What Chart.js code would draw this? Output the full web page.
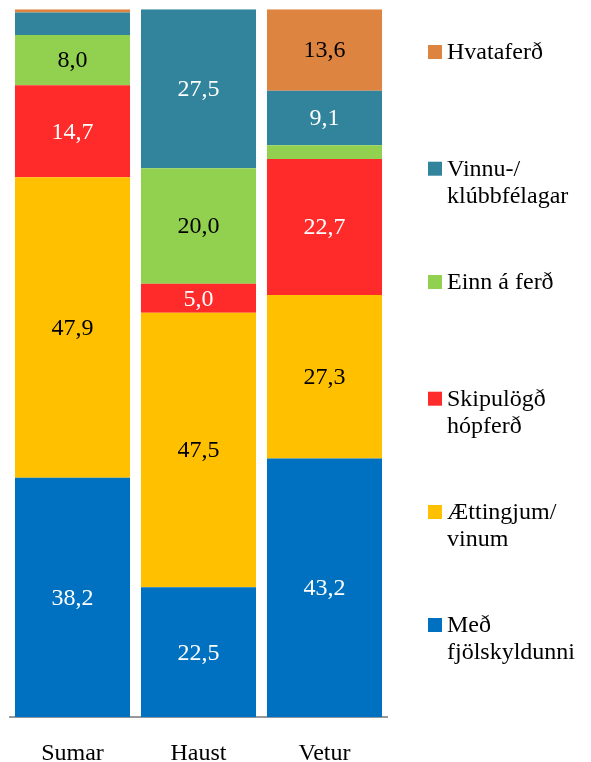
<!DOCTYPE html>
<html>
<head>
<meta charset="utf-8">
<script src="https://cdn.jsdelivr.net/npm/chart.js@4.4.1/dist/chart.umd.min.js"></script>
<style>
  html, body { margin: 0; padding: 0; background: #fff; }
  #wrap { width: 591px; height: 762px; position: relative; }
</style>
</head>
<body>
<div id="wrap"><canvas id="grafico"></canvas></div>
<script>
// Árstíðir (flokkar á x-ás)
const arstidir = ["Sumar", "Haust", "Vetur"];

// Hlutfall svarenda (%) eftir ferðafélögum, hver röð frá neðst til efst
const medFjolskyldu = [38.2, 22.5, 43.2];
const aettingjumVinum = [47.9, 47.5, 27.3];
const skipulogd = [14.7, 5.0, 22.7];
const einnAFerd = [8.0, 20.0, 2.3];
const vinnuKlubb = [3.6, 27.5, 9.1];
const hvataferd = [0.5, 0.0, 13.6];

// Nöfn raðanna (línuskipting eins og í skýringunni)
const heiti = [
  ["Með", "fjölskyldunni"],
  ["Ættingjum/", "vinum"],
  ["Skipulögð", "hópferð"],
  ["Einn á ferð"],
  ["Vinnu-/", "klúbbfélagar"],
  ["Hvataferð"],
];

const radir = [medFjolskyldu, aettingjumVinum, skipulogd, einnAFerd, vinnuKlubb, hvataferd];
const litir = ["#0070C0", "#FFC000", "#FF2A2A", "#92D050", "#31849B", "#DD8440"];
const textalitir = ["#fff", "#000", "#fff", "#000", "#fff", "#000"];

const letur = "'Liberation Serif', 'DejaVu Serif', serif";

// Súlurnar eru 100% staflaðar, summan er yfir 100 (fleiri en eitt svar)
const samtals = arstidir.map((_, j) => radir.reduce((s, r) => s + r[j], 0));

const datasets = radir.map((r, i) => ({
  label: heiti[i].join(" "),
  data: r.map((v, j) => (v / samtals[j]) * 100),
  raw: r,
  backgroundColor: litir[i],
  borderWidth: 0,
  barPercentage: 0.913,
  categoryPercentage: 1,
}));

// Gildi inni í súlunum
const gildiPlugin = {
  id: "gildi",
  afterDatasetsDraw(chart) {
    const c = chart.ctx;
    c.save();
    c.font = "24px " + letur;
    c.textAlign = "center";
    c.textBaseline = "middle";
    chart.data.datasets.forEach((ds, i) => {
      chart.getDatasetMeta(i).data.forEach((bar, j) => {
        const h = Math.abs(bar.base - bar.y);
        if (h < 25) return;
        c.fillStyle = textalitir[i];
        c.fillText(ds.raw[j].toFixed(1).replace(".", ","), bar.x, (bar.y + bar.base) / 2 + 1);
      });
    });
    c.restore();
  },
};

// Skýring hægra megin
const skyringPlugin = {
  id: "skyring",
  afterDraw(chart) {
    const c = chart.ctx;
    const midjur = [625, 512, 398.7, 282, 168.7, 52];
    c.save();
    c.font = "24px " + letur;
    c.textBaseline = "middle";
    heiti.forEach((linur, i) => {
      const y = midjur[i];
      c.fillStyle = litir[i];
      c.fillRect(428, y - 7, 14, 14);
      c.fillStyle = "#000";
      linur.forEach((t, k) => c.fillText(t, 447, y + 1 + k * 27));
    });
    c.restore();
  },
};

new Chart(document.getElementById("grafico"), {
  type: "bar",
  data: { labels: arstidir, datasets: datasets },
  options: {
    responsive: true,
    maintainAspectRatio: false,
    animation: false,
    layout: { padding: { left: 9.5, right: 203.5, top: 9.3, bottom: 0 } },
    scales: {
      x: {
        stacked: true,
        grid: { display: false },
        border: { display: true, color: "#999", width: 2 },
        ticks: { color: "#000", font: { family: letur, size: 24 }, padding: 14 },
        afterFit(scale) { scale.height = 44.7; },
      },
      y: { stacked: true, display: false, min: 0, max: 100 },
    },
    plugins: {
      legend: { display: false },
      tooltip: { enabled: false },
    },
  },
  plugins: [gildiPlugin, skyringPlugin],
});
</script>
</body>
</html>
